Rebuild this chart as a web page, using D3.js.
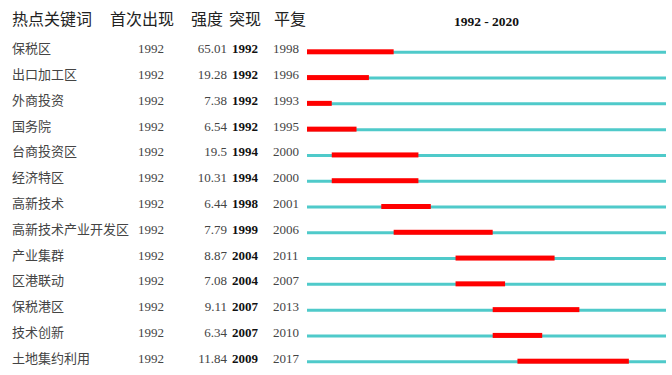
<!DOCTYPE html>
<html>
<head>
<meta charset="utf-8">
<script src="https://cdn.jsdelivr.net/npm/d3@7"></script>
<style>
  body { margin: 0; background: #fff; }
</style>
</head>
<body>
<div id="container"></div>
<script>
// Keywords with strongest citation bursts
const keywords = ["保税区", "出口加工区", "外商投资", "国务院", "台商投资区", "经济特区", "高新技术",
  "高新技术产业开发区", "产业集群", "区港联动", "保税港区", "技术创新", "土地集约利用"];
const firstYears = [1992, 1992, 1992, 1992, 1992, 1992, 1992, 1992, 1992, 1992, 1992, 1992, 1992];
const strengths = ["65.01", "19.28", "7.38", "6.54", "19.5", "10.31", "6.44", "7.79", "8.87", "7.08", "9.11", "6.34", "11.84"];
const beginYears = [1992, 1992, 1992, 1992, 1994, 1994, 1998, 1999, 2004, 2004, 2007, 2007, 2009];
const endYears = [1998, 1996, 1993, 1995, 2000, 2000, 2001, 2006, 2011, 2007, 2013, 2010, 2017];
const headers = ["热点关键词", "首次出现", "强度", "突现", "平复"];
const startYear = 1992, stopYear = 2020;

const width = 672, height = 375;

const svg = d3.select("#container").append("svg")
    .attr("width", width)
    .attr("height", height);

const years = d3.range(startYear, stopYear + 1);
const x = d3.scaleBand().domain(years).range([307, 666]);
const y = d3.scalePoint().domain(keywords).range([52.3, 361.7]);

const rows = keywords.map((k, i) => ({
  key: k, first: firstYears[i], strength: strengths[i], begin: beginYears[i], end: endYears[i]
}));

// header
const headerX = [12, 110, 191, 229, 274];
svg.selectAll("text.head")
  .data(headers)
  .join("text")
    .attr("class", "head")
    .attr("x", (d, i) => headerX[i])
    .attr("y", 25)
    .attr("font-family", "Noto Sans CJK SC")
    .attr("font-size", 16)
    .attr("fill", "#222")
    .text(d => d);

svg.append("text")
    .attr("x", (x.range()[0] + x.range()[1]) / 2)
    .attr("y", 26)
    .attr("text-anchor", "middle")
    .attr("font-family", "Liberation Serif")
    .attr("font-weight", "bold")
    .attr("font-size", 13.5)
    .attr("fill", "#111")
    .text(`${startYear} - ${stopYear}`);

const g = svg.selectAll("g.row")
  .data(rows)
  .join("g")
    .attr("class", "row")
    .attr("transform", d => `translate(0,${y(d.key)})`);

// timeline
g.append("line")
    .attr("x1", x(startYear))
    .attr("x2", x(stopYear) + x.bandwidth())
    .attr("stroke", "#4fcaca")
    .attr("stroke-width", 3);

// burst
g.append("rect")
    .attr("x", d => x(d.begin))
    .attr("y", -3)
    .attr("width", d => x(d.end) + x.bandwidth() - x(d.begin))
    .attr("height", 5)
    .attr("fill", "#ff0000");

// text columns
g.append("text")
    .attr("x", 12)
    .attr("y", 1)
    .attr("font-family", "Noto Sans CJK SC")
    .attr("font-size", 13)
    .attr("fill", "#444")
    .text(d => d.key);

g.append("text")
    .attr("x", 138)
    .attr("y", 1)
    .attr("font-family", "Liberation Serif")
    .attr("font-size", 13)
    .attr("fill", "#444")
    .text(d => d.first);

g.append("text")
    .attr("x", 227)
    .attr("y", 1)
    .attr("text-anchor", "end")
    .attr("font-family", "Liberation Serif")
    .attr("font-size", 13)
    .attr("fill", "#444")
    .text(d => d.strength);

g.append("text")
    .attr("x", 232)
    .attr("y", 1)
    .attr("font-family", "Liberation Serif")
    .attr("font-weight", "bold")
    .attr("font-size", 13)
    .attr("fill", "#111")
    .text(d => d.begin);

g.append("text")
    .attr("x", 273)
    .attr("y", 1)
    .attr("font-family", "Liberation Serif")
    .attr("font-size", 13)
    .attr("fill", "#444")
    .text(d => d.end);
</script>
</body>
</html>
